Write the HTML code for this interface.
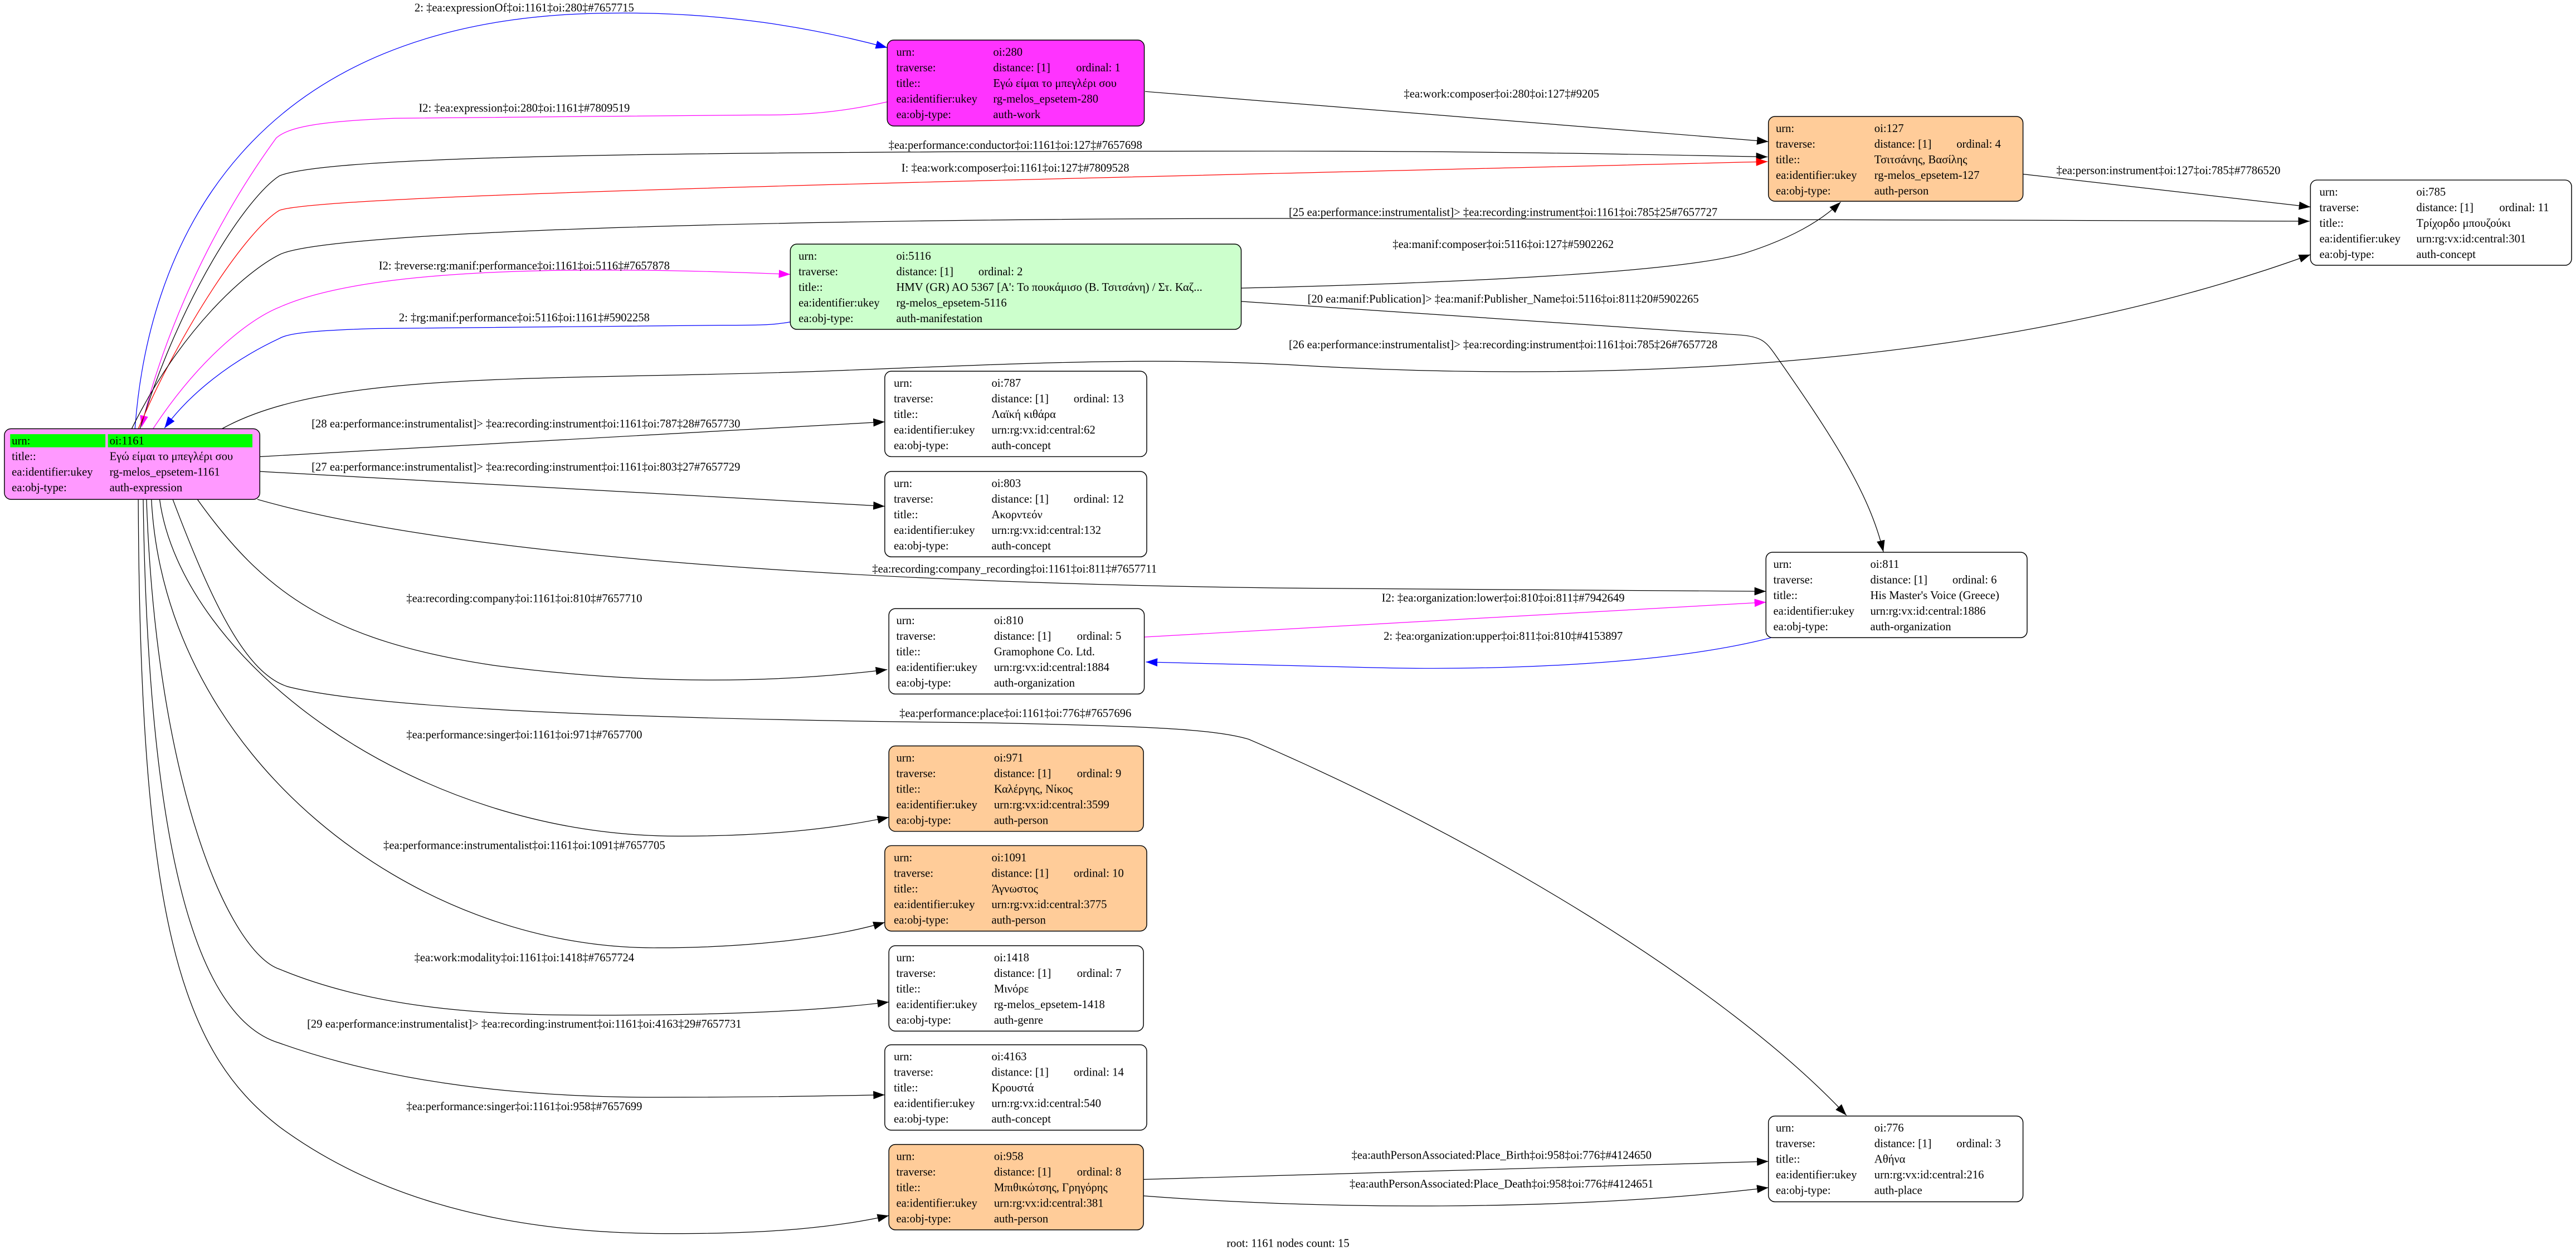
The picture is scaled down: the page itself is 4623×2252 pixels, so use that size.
<!DOCTYPE html>
<html><head><meta charset="utf-8"><style>
html,body{margin:0;padding:0;background:#fff;}
svg{display:block;}
text{font-family:"Liberation Serif","Noto Serif CJK SC",serif;font-size:7px;fill:#000;}
.e{fill:none;stroke-width:0.42;}
.n{stroke:#000;stroke-width:0.5;}
</style></head><body>
<svg width="4623" height="2252" viewBox="0 0 1568 764" xmlns="http://www.w3.org/2000/svg">
<defs>
<marker id="ak" markerWidth="7" markerHeight="5" refX="7" refY="2.5" orient="auto" markerUnits="userSpaceOnUse"><path d="M0,0L7,2.5L0,5z" fill="#000"/></marker>
<marker id="ab" markerWidth="7" markerHeight="5" refX="7" refY="2.5" orient="auto" markerUnits="userSpaceOnUse"><path d="M0,0L7,2.5L0,5z" fill="#00f"/></marker>
<marker id="am" markerWidth="7" markerHeight="5" refX="7" refY="2.5" orient="auto" markerUnits="userSpaceOnUse"><path d="M0,0L7,2.5L0,5z" fill="#f0f"/></marker>
<marker id="ar" markerWidth="7" markerHeight="5" refX="7" refY="2.5" orient="auto" markerUnits="userSpaceOnUse"><path d="M0,0L7,2.5L0,5z" fill="#f00"/></marker>
</defs>

<!-- edges -->
<path class="e" stroke="#00f" marker-end="url(#ab)" d="M82,261 C90,150 150,10 370,8 C440,7 495,17 540,29"/>
<path class="e" stroke="#f0f" marker-end="url(#am)" d="M540,62 C505,70 480,70 460,70 L240,72 C190,74 175,78 168,84 C120,150 95,220 86,260"/>
<path class="e" stroke="#000" marker-end="url(#ak)" d="M85,261 C110,180 150,120 170,107 C200,95 400,92 784,92 C900,92 1000,94 1076,95.5"/>
<path class="e" stroke="#f00" marker-end="url(#ar)" d="M84,261 C110,200 150,140 170,128 C200,118 600,110 1076,98.4"/>
<path class="e" stroke="#000" marker-end="url(#ak)" d="M80,261 C110,200 150,165 170,155 C200,140 500,133 784,133 C1000,133 1200,134 1406,134.7"/>
<path class="e" stroke="#f0f" marker-end="url(#am)" d="M93,261 C120,220 150,195 170,187 C230,160 380,163 481,167"/>
<path class="e" stroke="#00f" marker-end="url(#ab)" d="M481,196 C470,198 460,198 440,198 L230,200 C190,201 175,203 170,206 C140,220 115,240 100,260.6"/>
<path class="e" stroke="#000" marker-end="url(#ak)" d="M697,55.7 L1076.5,86.2"/>
<path class="e" stroke="#000" marker-end="url(#ak)" d="M1231.5,106 L1406.5,126"/>
<path class="e" stroke="#000" marker-end="url(#ak)" d="M755.5,175.4 C900,172 1030,165 1064,153.5 C1090,145 1108,135 1120.5,123"/>
<path class="e" stroke="#000" marker-end="url(#ak)" d="M755.5,183.5 L1060,204 C1072,205 1075,208 1080,215 C1115,265 1138,300 1146.5,336"/>
<path class="e" stroke="#000" marker-end="url(#ak)" d="M135,261 C200,225 330,232 500,226 C650,220 700,218 784,222 C950,232 1200,230 1406.5,155"/>
<path class="e" stroke="#000" marker-end="url(#ak)" d="M158,278 L538.5,256.8"/>
<path class="e" stroke="#000" marker-end="url(#ak)" d="M158,287 L538.5,308.2"/>
<path class="e" stroke="#000" marker-end="url(#ak)" d="M156.5,304 C300,345 600,356 784,358 L1075,360"/>
<path class="e" stroke="#000" marker-end="url(#ak)" d="M120,304 C160,360 200,390 300,405 C400,418 480,415 540,407.6"/>
<path class="e" stroke="#f0f" marker-end="url(#am)" d="M696.5,387.8 L1075,366.6"/>
<path class="e" stroke="#00f" marker-end="url(#ab)" d="M1079,388 C1010,406 900,408 834,406.4 C780,405 730,404 697.5,403"/>
<path class="e" stroke="#000" marker-end="url(#ak)" d="M105,304 C130,370 150,410 175,418 C230,432 400,438 600,440 C700,442 740,444 760,450 C900,510 1050,600 1124,679"/>
<path class="e" stroke="#000" marker-end="url(#ak)" d="M97,304 C110,400 250,510 415,509 C470,509 510,504 541,497.5"/>
<path class="e" stroke="#000" marker-end="url(#ak)" d="M92,304 C100,460 250,578 400,577 C460,577 510,570 538.5,561.5"/>
<path class="e" stroke="#000" marker-end="url(#ak)" d="M89,304 C95,480 140,580 170,590 C230,615 300,618 360,618 C450,618 500,615 541,610"/>
<path class="e" stroke="#000" marker-end="url(#ak)" d="M87,304 C90,520 120,620 170,635 C240,660 320,668 400,668 C470,668 510,667 538.5,666.5"/>
<path class="e" stroke="#000" marker-end="url(#ak)" d="M84,304 C85,560 110,640 170,686 C250,745 350,751 410,751 C470,751 510,747 541,740"/>
<path class="e" stroke="#000" marker-end="url(#ak)" d="M696,718 L1076.5,707"/>
<path class="e" stroke="#000" marker-end="url(#ak)" d="M696,728 C800,736 950,738 1076.5,723"/>

<!-- edge labels -->
<g text-anchor="middle">
<text x="319" y="7">2: ‡ea:expressionOf‡oi:1161‡oi:280‡#7657715</text>
<text x="319" y="68">I2: ‡ea:expression‡oi:280‡oi:1161‡#7809519</text>
<text x="618" y="90.5">‡ea:performance:conductor‡oi:1161‡oi:127‡#7657698</text>
<text x="618" y="104.5">I: ‡ea:work:composer‡oi:1161‡oi:127‡#7809528</text>
<text x="915" y="131.5">[25 ea:performance:instrumentalist]&gt; ‡ea:recording:instrument‡oi:1161‡oi:785‡25#7657727</text>
<text x="319" y="164">I2: ‡reverse:rg:manif:performance‡oi:1161‡oi:5116‡#7657878</text>
<text x="319" y="195.5">2: ‡rg:manif:performance‡oi:5116‡oi:1161‡#5902258</text>
<text x="914" y="59.3">‡ea:work:composer‡oi:280‡oi:127‡#9205</text>
<text x="1320" y="106">‡ea:person:instrument‡oi:127‡oi:785‡#7786520</text>
<text x="915" y="151">‡ea:manif:composer‡oi:5116‡oi:127‡#5902262</text>
<text x="915" y="184.2">[20 ea:manif:Publication]&gt; ‡ea:manif:Publisher_Name‡oi:5116‡oi:811‡20#5902265</text>
<text x="915" y="212">[26 ea:performance:instrumentalist]&gt; ‡ea:recording:instrument‡oi:1161‡oi:785‡26#7657728</text>
<text x="320" y="260.2">[28 ea:performance:instrumentalist]&gt; ‡ea:recording:instrument‡oi:1161‡oi:787‡28#7657730</text>
<text x="320" y="286.5">[27 ea:performance:instrumentalist]&gt; ‡ea:recording:instrument‡oi:1161‡oi:803‡27#7657729</text>
<text x="617.5" y="348.5">‡ea:recording:company_recording‡oi:1161‡oi:811‡#7657711</text>
<text x="319" y="366.5">‡ea:recording:company‡oi:1161‡oi:810‡#7657710</text>
<text x="915" y="366.2">I2: ‡ea:organization:lower‡oi:810‡oi:811‡#7942649</text>
<text x="915" y="389.4">2: ‡ea:organization:upper‡oi:811‡oi:810‡#4153897</text>
<text x="618" y="436.5">‡ea:performance:place‡oi:1161‡oi:776‡#7657696</text>
<text x="319" y="449.5">‡ea:performance:singer‡oi:1161‡oi:971‡#7657700</text>
<text x="319" y="516.8">‡ea:performance:instrumentalist‡oi:1161‡oi:1091‡#7657705</text>
<text x="319" y="585.2">‡ea:work:modality‡oi:1161‡oi:1418‡#7657724</text>
<text x="319" y="625.5">[29 ea:performance:instrumentalist]&gt; ‡ea:recording:instrument‡oi:1161‡oi:4163‡29#7657731</text>
<text x="319" y="675.8">‡ea:performance:singer‡oi:1161‡oi:958‡#7657699</text>
<text x="914" y="705.5">‡ea:authPersonAssociated:Place_Birth‡oi:958‡oi:776‡#4124650</text>
<text x="914" y="722.9">‡ea:authPersonAssociated:Place_Death‡oi:958‡oi:776‡#4124651</text>
<text x="784" y="759">root: 1161 nodes count: 15</text>
</g>

<!-- node 1161 -->
<rect class="n" x="2.5" y="261" width="155.5" height="43" rx="4" fill="#ff99ff"/>
<rect x="6" y="264.3" width="58" height="8" fill="#00ff00"/>
<rect x="65.5" y="264.3" width="88" height="8" fill="#00ff00"/>
<g><text x="7" y="270.5">urn:</text><text x="66.5" y="270.5">oi:1161</text>
<text x="7" y="280">title::</text><text x="66.5" y="280">Εγώ είμαι το μπεγλέρι σου</text>
<text x="7" y="289.5">ea:identifier:ukey</text><text x="66.5" y="289.5">rg-melos_epsetem-1161</text>
<text x="7" y="299">ea:obj-type:</text><text x="66.5" y="299">auth-expression</text></g>

<!-- node 280 -->
<rect class="n" x="540" y="24.4" width="156.5" height="52.3" rx="4" fill="#ff33ff"/>
<text x="545.5" y="34">urn:</text><text x="604.5" y="34">oi:280</text>
<text x="545.5" y="43.5">traverse:</text><text x="604.5" y="43.5">distance: [1]</text><text x="655" y="43.5">ordinal: 1</text>
<text x="545.5" y="53">title::</text><text x="604.5" y="53">Εγώ είμαι το μπεγλέρι σου</text>
<text x="545.5" y="62.5">ea:identifier:ukey</text><text x="604.5" y="62.5">rg-melos_epsetem-280</text>
<text x="545.5" y="72">ea:obj-type:</text><text x="604.5" y="72">auth-work</text>

<!-- node 127 -->
<rect class="n" x="1076.5" y="70.9" width="155" height="51.6" rx="4" fill="#ffcc99"/>
<text x="1081" y="80.4">urn:</text><text x="1141" y="80.4">oi:127</text>
<text x="1081" y="89.9">traverse:</text><text x="1141" y="89.9">distance: [1]</text><text x="1191" y="89.9">ordinal: 4</text>
<text x="1081" y="99.4">title::</text><text x="1141" y="99.4">Τσιτσάνης, Βασίλης</text>
<text x="1081" y="108.9">ea:identifier:ukey</text><text x="1141" y="108.9">rg-melos_epsetem-127</text>
<text x="1081" y="118.4">ea:obj-type:</text><text x="1141" y="118.4">auth-person</text>

<!-- node 785 -->
<rect class="n" x="1406.5" y="109.6" width="159" height="51.9" rx="4" fill="#fff"/>
<text x="1412" y="119.1">urn:</text><text x="1471" y="119.1">oi:785</text>
<text x="1412" y="128.6">traverse:</text><text x="1471" y="128.6">distance: [1]</text><text x="1521.5" y="128.6">ordinal: 11</text>
<text x="1412" y="138.1">title::</text><text x="1471" y="138.1">Τρίχορδο μπουζούκι</text>
<text x="1412" y="147.6">ea:identifier:ukey</text><text x="1471" y="147.6">urn:rg:vx:id:central:301</text>
<text x="1412" y="157.1">ea:obj-type:</text><text x="1471" y="157.1">auth-concept</text>

<!-- node 5116 -->
<rect class="n" x="481" y="148.6" width="274.5" height="51.9" rx="4" fill="#ccffcc"/>
<text x="486" y="158.1">urn:</text><text x="545.5" y="158.1">oi:5116</text>
<text x="486" y="167.6">traverse:</text><text x="545.5" y="167.6">distance: [1]</text><text x="595.5" y="167.6">ordinal: 2</text>
<text x="486" y="177.1">title::</text><text x="545.5" y="177.1">HMV (GR) AO 5367 [Α': Το πουκάμισο (Β. Τσιτσάνη) / Στ. Καζ...</text>
<text x="486" y="186.6">ea:identifier:ukey</text><text x="545.5" y="186.6">rg-melos_epsetem-5116</text>
<text x="486" y="196.1">ea:obj-type:</text><text x="545.5" y="196.1">auth-manifestation</text>

<!-- node 787 -->
<rect class="n" x="538.5" y="226" width="159.5" height="52" rx="4" fill="#fff"/>
<text x="544" y="235.5">urn:</text><text x="603.5" y="235.5">oi:787</text>
<text x="544" y="245">traverse:</text><text x="603.5" y="245">distance: [1]</text><text x="653.5" y="245">ordinal: 13</text>
<text x="544" y="254.5">title::</text><text x="603.5" y="254.5">Λαϊκή κιθάρα</text>
<text x="544" y="264">ea:identifier:ukey</text><text x="603.5" y="264">urn:rg:vx:id:central:62</text>
<text x="544" y="273.5">ea:obj-type:</text><text x="603.5" y="273.5">auth-concept</text>

<!-- node 803 -->
<rect class="n" x="538.5" y="287" width="159.5" height="52" rx="4" fill="#fff"/>
<text x="544" y="296.5">urn:</text><text x="603.5" y="296.5">oi:803</text>
<text x="544" y="306">traverse:</text><text x="603.5" y="306">distance: [1]</text><text x="653.5" y="306">ordinal: 12</text>
<text x="544" y="315.5">title::</text><text x="603.5" y="315.5">Ακορντεόν</text>
<text x="544" y="325">ea:identifier:ukey</text><text x="603.5" y="325">urn:rg:vx:id:central:132</text>
<text x="544" y="334.5">ea:obj-type:</text><text x="603.5" y="334.5">auth-concept</text>

<!-- node 811 -->
<rect class="n" x="1075" y="336.2" width="159" height="52" rx="4" fill="#fff"/>
<text x="1079.5" y="345.7">urn:</text><text x="1138.5" y="345.7">oi:811</text>
<text x="1079.5" y="355.2">traverse:</text><text x="1138.5" y="355.2">distance: [1]</text><text x="1188.5" y="355.2">ordinal: 6</text>
<text x="1079.5" y="364.7">title::</text><text x="1138.5" y="364.7">His Master's Voice (Greece)</text>
<text x="1079.5" y="374.2">ea:identifier:ukey</text><text x="1138.5" y="374.2">urn:rg:vx:id:central:1886</text>
<text x="1079.5" y="383.7">ea:obj-type:</text><text x="1138.5" y="383.7">auth-organization</text>

<!-- node 810 -->
<rect class="n" x="541" y="370.5" width="155.5" height="52" rx="4" fill="#fff"/>
<text x="545.5" y="380">urn:</text><text x="605" y="380">oi:810</text>
<text x="545.5" y="389.5">traverse:</text><text x="605" y="389.5">distance: [1]</text><text x="655.5" y="389.5">ordinal: 5</text>
<text x="545.5" y="399">title::</text><text x="605" y="399">Gramophone Co. Ltd.</text>
<text x="545.5" y="408.5">ea:identifier:ukey</text><text x="605" y="408.5">urn:rg:vx:id:central:1884</text>
<text x="545.5" y="418">ea:obj-type:</text><text x="605" y="418">auth-organization</text>

<!-- node 971 -->
<rect class="n" x="541" y="454.1" width="155" height="52" rx="4" fill="#ffcc99"/>
<text x="545.5" y="463.6">urn:</text><text x="605" y="463.6">oi:971</text>
<text x="545.5" y="473.1">traverse:</text><text x="605" y="473.1">distance: [1]</text><text x="655.5" y="473.1">ordinal: 9</text>
<text x="545.5" y="482.6">title::</text><text x="605" y="482.6">Καλέργης, Νίκος</text>
<text x="545.5" y="492.1">ea:identifier:ukey</text><text x="605" y="492.1">urn:rg:vx:id:central:3599</text>
<text x="545.5" y="501.6">ea:obj-type:</text><text x="605" y="501.6">auth-person</text>

<!-- node 1091 -->
<rect class="n" x="538.5" y="514.8" width="159.5" height="52" rx="4" fill="#ffcc99"/>
<text x="544" y="524.3">urn:</text><text x="603.5" y="524.3">oi:1091</text>
<text x="544" y="533.8">traverse:</text><text x="603.5" y="533.8">distance: [1]</text><text x="653.5" y="533.8">ordinal: 10</text>
<text x="544" y="543.3">title::</text><text x="603.5" y="543.3">Άγνωστος</text>
<text x="544" y="552.8">ea:identifier:ukey</text><text x="603.5" y="552.8">urn:rg:vx:id:central:3775</text>
<text x="544" y="562.3">ea:obj-type:</text><text x="603.5" y="562.3">auth-person</text>

<!-- node 1418 -->
<rect class="n" x="541" y="575.7" width="155" height="52" rx="4" fill="#fff"/>
<text x="545.5" y="585.2">urn:</text><text x="605" y="585.2">oi:1418</text>
<text x="545.5" y="594.7">traverse:</text><text x="605" y="594.7">distance: [1]</text><text x="655.5" y="594.7">ordinal: 7</text>
<text x="545.5" y="604.2">title::</text><text x="605" y="604.2">Μινόρε</text>
<text x="545.5" y="613.7">ea:identifier:ukey</text><text x="605" y="613.7">rg-melos_epsetem-1418</text>
<text x="545.5" y="623.2">ea:obj-type:</text><text x="605" y="623.2">auth-genre</text>

<!-- node 4163 -->
<rect class="n" x="538.5" y="636" width="159.5" height="52" rx="4" fill="#fff"/>
<text x="544" y="645.5">urn:</text><text x="603.5" y="645.5">oi:4163</text>
<text x="544" y="655">traverse:</text><text x="603.5" y="655">distance: [1]</text><text x="653.5" y="655">ordinal: 14</text>
<text x="544" y="664.5">title::</text><text x="603.5" y="664.5">Κρουστά</text>
<text x="544" y="674">ea:identifier:ukey</text><text x="603.5" y="674">urn:rg:vx:id:central:540</text>
<text x="544" y="683.5">ea:obj-type:</text><text x="603.5" y="683.5">auth-concept</text>

<!-- node 958 -->
<rect class="n" x="541" y="696.7" width="155" height="52" rx="4" fill="#ffcc99"/>
<text x="545.5" y="706.2">urn:</text><text x="605" y="706.2">oi:958</text>
<text x="545.5" y="715.7">traverse:</text><text x="605" y="715.7">distance: [1]</text><text x="655.5" y="715.7">ordinal: 8</text>
<text x="545.5" y="725.2">title::</text><text x="605" y="725.2">Μπιθικώτσης, Γρηγόρης</text>
<text x="545.5" y="734.7">ea:identifier:ukey</text><text x="605" y="734.7">urn:rg:vx:id:central:381</text>
<text x="545.5" y="744.2">ea:obj-type:</text><text x="605" y="744.2">auth-person</text>

<!-- node 776 -->
<rect class="n" x="1076.5" y="679.4" width="155" height="52.2" rx="4" fill="#fff"/>
<text x="1081" y="688.9">urn:</text><text x="1141" y="688.9">oi:776</text>
<text x="1081" y="698.4">traverse:</text><text x="1141" y="698.4">distance: [1]</text><text x="1191" y="698.4">ordinal: 3</text>
<text x="1081" y="707.9">title::</text><text x="1141" y="707.9">Αθήνα</text>
<text x="1081" y="717.4">ea:identifier:ukey</text><text x="1141" y="717.4">urn:rg:vx:id:central:216</text>
<text x="1081" y="726.9">ea:obj-type:</text><text x="1141" y="726.9">auth-place</text>
</svg>
</body></html>
